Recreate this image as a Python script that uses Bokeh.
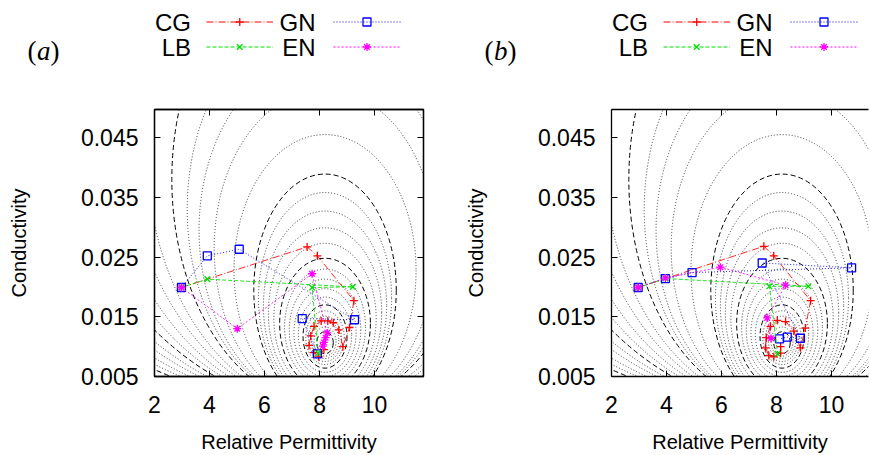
from bokeh.plotting import figure
from bokeh.layouts import column, row
from bokeh.models import Range1d, FixedTicker, LinearAxis, ColumnDataSource
from bokeh.core.properties import value
from bokeh.embed import file_html
from bokeh.resources import INLINE

FONT = "Liberation Sans"

# ---- misfit contour loops, inner to outer ----
cont_top = [0.0125, 0.0133, 0.0142, 0.0151, 0.0160, 0.0170, 0.0183, 0.0197, 0.0213, 0.0230,
            0.0248, 0.0273, 0.0299, 0.0327, 0.0358, 0.0389, 0.0455, 0.053, 0.059, 0.066,
            0.076, 0.087, 0.099, 0.113, 0.129, 0.147, 0.168, 0.191, 0.218, 0.249, 0.284]
cont_bottom = [0.0088, 0.0084, 0.0080, 0.0075, 0.0070, 0.0064, 0.0057, 0.0050, 0.0043, 0.0036,
               0.0029, 0.0022, 0.0015, 0.0009, 0.0004, 0.0000, 0.0000, 0.0000, 0.0000, 0.0000,
               0.0000, 0.0000, 0.0000, 0.0000, 0.0000, 0.0000, 0.0000, 0.0000, 0.0000, 0.0000, 0.0000]
cont_halfwidth = [0.30, 0.40, 0.50, 0.60, 0.70, 0.80, 0.97, 1.13, 1.30, 1.47,
                  1.65, 1.86, 2.06, 2.24, 2.42, 2.59, 3.31, 4.03, 4.58, 5.01,
                  5.57, 6.5, 7.4, 8.5, 9.7, 11.0, 12.6, 14.3, 16.4, 18.7, 21.3]
cont_dashed = [True, False, False, False, False, True, False, False, False, False,
               True, False, False, False, False, True, False, False, False, False,
               True, False, False, False, False, True, False, False, False, False, True]
cont_center_eps = 8.2

x_ticks = [2, 4, 6, 8, 10]
y_ticks = [0.005, 0.015, 0.025, 0.035, 0.045]

# ---- panel (a) paths ----
cg_a_eps = [2.98, 7.55, 7.92, 9.25, 9.09, 8.85, 8.70, 8.50, 8.30, 8.06, 7.80, 7.68, 7.62, 7.79, 7.97, 8.16]
cg_a_sig = [0.0199, 0.0267, 0.0252, 0.0177, 0.0132, 0.0100, 0.0128, 0.0140, 0.0143, 0.0143, 0.0134, 0.0118, 0.0102, 0.0090, 0.0083, 0.0095]
gn_a_eps = [2.98, 3.92, 5.08, 9.27, 7.37, 7.92]
gn_a_sig = [0.0199, 0.0252, 0.0263, 0.0145, 0.0147, 0.0088]
lb_a_eps = [2.98, 3.92, 9.21, 7.73, 7.95]
lb_a_sig = [0.0199, 0.0213, 0.0200, 0.0199, 0.0089]
en_a_eps = [2.98, 5.01, 7.73, 8.28, 8.22, 8.16, 8.12]
en_a_sig = [0.0199, 0.0130, 0.0222, 0.0123, 0.0115, 0.0107, 0.0101]

# ---- panel (b) paths ----
cg_b_eps = [2.97, 7.54, 7.90, 9.24, 9.05, 8.87, 8.63, 8.33, 8.03, 7.78, 7.63, 7.60, 7.72, 7.90, 8.15, 8.15]
cg_b_sig = [0.0199, 0.0268, 0.0252, 0.0177, 0.0131, 0.0098, 0.0126, 0.0142, 0.0144, 0.0134, 0.0115, 0.0098, 0.0085, 0.0083, 0.0089, 0.0100]
gn_b_eps = [2.97, 3.96, 4.93, 10.73, 7.48, 8.87, 8.39, 8.11]
gn_b_sig = [0.0199, 0.0214, 0.0224, 0.0232, 0.0240, 0.0114, 0.0116, 0.0113]
lb_b_eps = [2.97, 3.96, 9.16, 7.74, 8.04]
lb_b_sig = [0.0199, 0.0214, 0.0201, 0.0201, 0.0088]
en_b_eps = [2.97, 3.96, 5.96, 8.33, 7.66, 7.80]
en_b_sig = [0.0199, 0.0215, 0.0233, 0.0203, 0.0148, 0.0114]

methods = ["CG", "GN", "LB", "EN"]
colors = {"CG": "#ff0000", "GN": "#0000ff", "LB": "#00dd00", "EN": "#ff00ff"}
dashes = {"CG": "7 2 1 2", "GN": "1 2", "LB": "4 2", "EN": "2 2"}
markers = {"CG": "cross", "GN": "square", "LB": "x", "EN": "asterisk"}

panel_a = {"CG": (cg_a_eps, cg_a_sig), "GN": (gn_a_eps, gn_a_sig),
           "LB": (lb_a_eps, lb_a_sig), "EN": (en_a_eps, en_a_sig)}
panel_b = {"CG": (cg_b_eps, cg_b_sig), "GN": (gn_b_eps, gn_b_sig),
           "LB": (lb_b_eps, lb_b_sig), "EN": (en_b_eps, en_b_sig)}


def contour_source(dashed_flag):
    cx, cy, w, h = [], [], [], []
    for t, b, hw, d in zip(cont_top, cont_bottom, cont_halfwidth, cont_dashed):
        if d == dashed_flag:
            cx.append(cont_center_eps)
            cy.append((t + b) / 2)
            w.append(2 * hw)
            h.append(t - b)
    return ColumnDataSource(dict(x=cx, y=cy, w=w, h=h))


def style_axis(ax):
    ax.major_tick_in = 6
    ax.major_tick_out = 0
    ax.minor_tick_in = 0
    ax.minor_tick_out = 0
    ax.axis_line_color = "black"
    ax.axis_line_width = 1.3
    ax.major_tick_line_color = "black"
    ax.major_label_text_font = FONT
    ax.major_label_text_font_size = "23px"
    ax.major_label_text_color = "black"
    ax.axis_label_text_font = FONT
    ax.axis_label_text_font_size = "20px"
    ax.axis_label_text_font_style = "normal"
    ax.axis_label_text_color = "black"


def mirror_axis(ticks):
    return LinearAxis(ticker=FixedTicker(ticks=ticks),
                      major_label_overrides={t: "" for t in ticks},
                      major_label_standoff=0, major_tick_in=6, major_tick_out=0,
                      minor_tick_in=0, minor_tick_out=0, axis_line_color="black",
                      axis_line_width=1.3)


def panel(width, min_left, min_right, x_end, closed, data):
    p = figure(width=width, height=348, x_range=Range1d(2, x_end), y_range=Range1d(0.005, 0.0497),
               output_backend="svg", toolbar_location=None,
               min_border_left=min_left, min_border_right=min_right,
               min_border_top=2, min_border_bottom=78,
               x_axis_label="Relative Permittivity", y_axis_label="Conductivity")
    p.grid.visible = False
    p.outline_line_color = "black" if closed else None
    p.outline_line_width = 1.3
    p.xaxis.ticker = FixedTicker(ticks=x_ticks)
    p.yaxis.ticker = FixedTicker(ticks=y_ticks)
    for ax in p.xaxis + p.yaxis:
        style_axis(ax)
    p.yaxis.major_label_standoff = 16
    p.yaxis.axis_label_standoff = 48
    p.xaxis.major_label_standoff = 19
    p.xaxis.axis_label_standoff = 15

    p.add_layout(mirror_axis(x_ticks), "above")
    if closed:
        p.add_layout(mirror_axis(y_ticks), "right")

    p.ellipse(x="x", y="y", width="w", height="h", source=contour_source(False),
              fill_color=None, line_color="#3a3a3a", line_width=1, line_dash="1 2")
    p.ellipse(x="x", y="y", width="w", height="h", source=contour_source(True),
              fill_color=None, line_color="#000000", line_width=1, line_dash="5 3")

    for m in methods:
        xs, ys = data[m]
        p.line(xs, ys, line_color=colors[m], line_width=1, line_dash=dashes[m], line_alpha=0.85)
        p.scatter(xs, ys, marker=markers[m], size=8, line_color=colors[m], fill_color=None,
                  line_width=1.3)
    return p


def legend_fig(width, frame_off, tag):
    lf = figure(width=width, height=107, x_range=Range1d(0, width), y_range=Range1d(0, 107),
                output_backend="svg", toolbar_location=None, min_border=0,
                x_axis_location=None, y_axis_location=None)
    lf.grid.visible = False
    lf.outline_line_color = None
    rows_y = [85.5, 85.5, 60.5, 60.5]
    text_r = [36.5, 161, 36.5, 161]
    line_s = [52, 179, 52, 179]
    line_e = [118.5, 246, 118.5, 246]
    for m, yy, tr, ls, le in zip(methods, rows_y, text_r, line_s, line_e):
        lf.text(x=[frame_off + tr], y=[yy], text=[m], text_align="right", text_baseline="middle",
                text_font=value(FONT), text_font_size="24px", text_color="black")
        lf.line([frame_off + ls, frame_off + le], [yy, yy], line_color=colors[m], line_width=1,
                line_dash=dashes[m])
        lf.scatter([frame_off + (ls + le) / 2], [yy], marker=markers[m], size=8,
                   line_color=colors[m], fill_color=None, line_width=1.3)
    # "(a)" / "(b)": upright parentheses, italic letter
    lf.text(x=[frame_off - 127, frame_off - 104], y=[56.2, 56.2], text=["(", ")"],
            text_align="left", text_baseline="middle", text_font=value("Liberation Serif"),
            text_font_size="27px", text_color="black")
    lf.text(x=[frame_off - 117.5], y=[56.2], text=[tag], text_align="left", text_baseline="middle",
            text_font=value("Liberation Serif"), text_font_style="italic",
            text_font_size="27px", text_color="black")
    return lf


pa = panel(435, 154, 12, 11.78, True, panel_a)
pb = panel(435, 176, 2, 11.345, False, panel_b)
la = legend_fig(435, 154, "a")
lb = legend_fig(435, 176, "b")

layout = column(row(la, lb), row(pa, pb))
open("out.html", "w").write(file_html(layout, INLINE))
